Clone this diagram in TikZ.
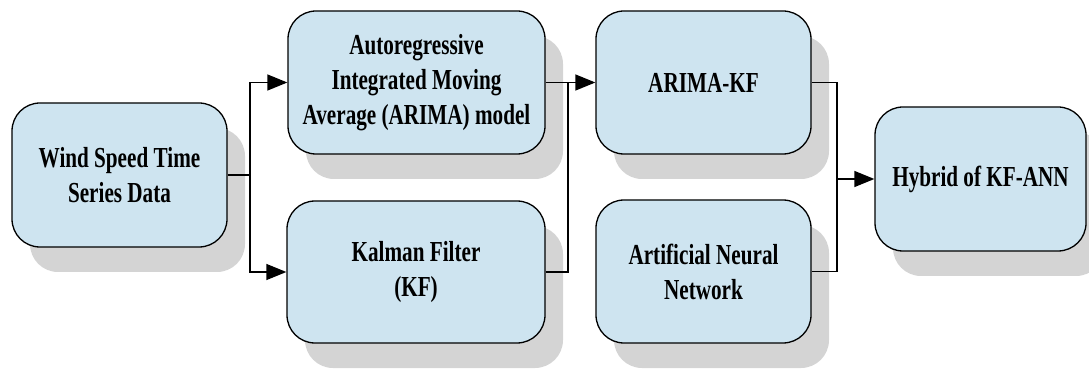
\documentclass[tikz,border=0pt]{standalone}
\usepackage{fontspec}
\setmainfont{Liberation Serif}[FakeStretch=0.73]
\usetikzlibrary{arrows.meta,shadows}
\definecolor{boxblue}{RGB}{206,228,240}
\definecolor{shadowgray}{RGB}{212,212,212}
\begin{document}
\begin{tikzpicture}[x=1pt,y=-1pt,
  blk/.style={draw=black, line width=1.3pt, fill=boxblue, rounded corners=28pt,
    inner sep=0pt, align=center,
    font=\bfseries\fontsize{29}{35}\selectfont,
    drop shadow={shadow xshift=18pt, shadow yshift=-25pt, fill=shadowgray, opacity=1}},
  conn/.style={draw=black, line width=1.3pt},
  arr/.style={conn, -{Triangle[length=20pt,width=16pt]}}]
\useasboundingbox (0,0) rectangle (1089,371);
\clip (0,0) rectangle (1089,371);
\node[blk, minimum width=215pt, minimum height=144pt] (wind) at (119.5,175) {Wind Speed Time\\Series Data};
\node[blk, minimum width=257pt, minimum height=143pt] (arima) at (416.5,82.5) {Autoregressive\\Integrated Moving\\Average (ARIMA) model};
\node[blk, minimum width=258pt, minimum height=142pt] (kf) at (416,272) {Kalman Filter\\(KF)};
\node[blk, minimum width=215pt, minimum height=143pt] (arimakf) at (703.5,82.5) {ARIMA-KF};
\node[blk, minimum width=215pt, minimum height=143pt] (ann) at (703.5,271.5) {Artificial Neural\\Network};
\node[blk, minimum width=211pt, minimum height=144pt] (hyb) at (980.5,179) {Hybrid of KF-ANN};
\coordinate (s1) at (250,175);
\coordinate (j1) at (568,82.5);
\coordinate (j2) at (837,179);
\draw[conn] (wind.east) -- (s1);
\draw[arr] (s1) |- (arima.west);
\draw[arr] (s1) |- (kf.west);
\draw[arr] (arima.east) -- (arimakf.west);
\draw[conn] (kf.east) -| (j1);
\draw[conn] (arimakf.east) -| (j2);
\draw[conn] (ann.east) -| (j2);
\draw[arr] (j2) -- (hyb.west);
\end{tikzpicture}
\end{document}
